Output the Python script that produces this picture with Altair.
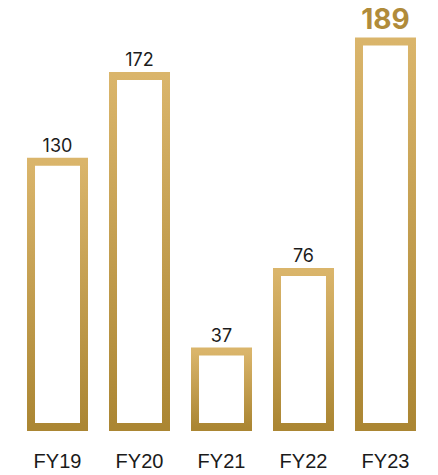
import altair as alt
import pandas as pd

years = ["FY19", "FY20", "FY21", "FY22", "FY23"]
values = [130, 172, 37, 76, 189]
highlight_year = "FY23"

df = pd.DataFrame({"year": years, "value": values})

grad = alt.Gradient(
    gradient="linear",
    stops=[
        alt.GradientStop(color="#dab56b", offset=0),
        alt.GradientStop(color="#ab8633", offset=1),
    ],
    x1=0, x2=0, y1=0, y2=1,
)

x = alt.X(
    "year:N",
    sort=years,
    scale=alt.Scale(paddingInner=0.3537, paddingOuter=0.177),
    axis=alt.Axis(
        title=None, domain=False, ticks=False, labelAngle=0,
        labelFont="Liberation Sans", labelFontSize=20, labelColor="#1a1a1a",
        labelBaseline="alphabetic", labelPadding=44,
    ),
)
y = alt.Y("value:Q", scale=alt.Scale(domain=[0, 207.35], nice=False, zero=True), axis=None)

base = alt.Chart(df)

bars = base.mark_bar(
    fill="transparent", stroke=grad, strokeWidth=8,
    yOffset=4, y2Offset=-4, strokeJoin="miter",
).encode(x=x, y=y)

labels = base.transform_filter(alt.datum.year != highlight_year).mark_text(
    dy=-6, baseline="alphabetic", fontSize=18, font="Inter", color="#1c1c1c"
).encode(x=x, y=y, text="value:Q")

hl_label = base.transform_filter(alt.datum.year == highlight_year).mark_text(
    dy=-8, baseline="alphabetic", fontSize=28, font="Inter", fontWeight="bold", color="#b08b3a"
).encode(x=x, y=y, text="value:Q")

chart = alt.layer(bars, labels, hl_label).properties(
    width=410, height=423,
    autosize=alt.AutoSizeParams(type="none"),
    padding={"left": 16.5, "top": 0, "right": 11.5, "bottom": 52},
    background="white",
).configure_view(strokeWidth=0)

chart.save("out.html", embed_options={"renderer": "svg", "actions": False})
